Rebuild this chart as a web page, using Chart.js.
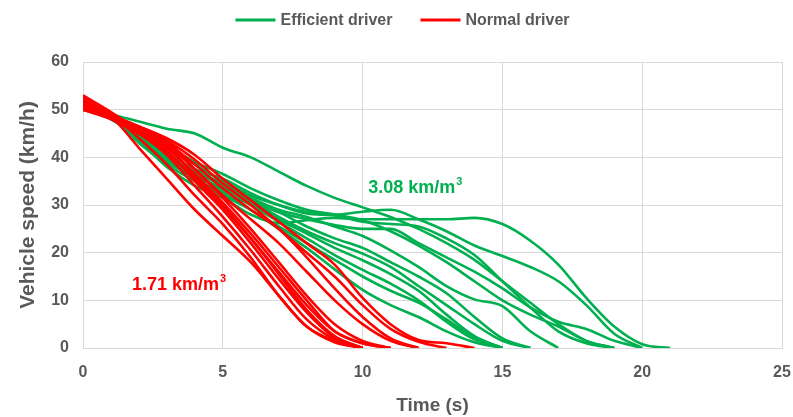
<!DOCTYPE html>
<html>
<head>
<meta charset="utf-8">
<script src="https://cdn.jsdelivr.net/npm/chart.js@4.4.1/dist/chart.umd.min.js"></script>
<style>
  html, body { margin: 0; padding: 0; background: #fff; }
  canvas { display: block; }
</style>
</head>
<body>
<canvas id="speed" width="793" height="417"></canvas>
<script>
// speeds (km/h) sampled every second, index = time (s)
// efficient driver runs
var eff1  = [50, 49, 47.5, 46, 45, 42, 40, 37, 34, 31.5, 29.5, 27.5, 25, 22, 18.5, 14, 9.5, 5, 1.5, 0];
var eff2  = [50.5, 48.5, 43.5, 38, 34, 31.5, 28, 26.2, 26.8, 27.3, 27, 27, 27, 27, 27.3, 26, 22.5, 17.5, 10.5, 4.5, 0.8, 0];
var eff3  = [51, 48.5, 45.5, 42, 38.5, 35, 32, 30, 28.5, 28, 28.6, 29, 27, 24.5, 21.5, 19.3, 17, 14, 9, 3, 0];
var eff4  = [50, 49, 45, 41, 37.5, 35.5, 32.5, 30, 28.2, 27.8, 26.5, 26, 25.5, 23, 19.5, 14, 8.5, 3.5, 1, 0];
var eff5  = [51.5, 48.5, 44.5, 40.5, 37, 34, 31, 28.5, 27, 25.8, 25, 25, 22, 19, 16, 12.5, 8.5, 5.5, 4, 1.5, 0];
var eff6  = [50, 48, 44, 40, 37, 34.5, 31.5, 29, 27.5, 25.5, 23.5, 20.5, 17, 13, 10.2, 8.8, 3.5, 0];
var eff7  = [51, 48.5, 44, 39.5, 36, 33.5, 31, 28.5, 25.5, 23, 21, 18, 15, 11.5, 6.5, 2, 0];
var eff8  = [50.5, 48.5, 44.5, 40, 37, 34.5, 31, 27.5, 24.5, 22, 19.8, 17, 13, 9, 5, 1.5, 0];
var eff9  = [50, 48.5, 43.5, 39, 36, 33.5, 30.5, 27, 24, 21, 18.4, 15.5, 12, 7, 2.5, 0];
var eff10 = [51, 48, 44, 40, 36.5, 33, 30, 26.5, 23, 19.5, 16.4, 13.5, 10, 5.5, 1.8, 0];
var eff11 = [50, 48.5, 43, 38.5, 35, 32, 29, 25.5, 22, 18.5, 15, 12, 9.5, 6, 2.2, 0];
var eff12 = [51.5, 48.5, 44, 39.5, 35.5, 32.5, 29, 25, 21, 16.5, 12.2, 9, 6.5, 3.5, 1.2, 0];
var eff13 = [50, 49, 46, 42.5, 39, 36.5, 33.5, 31, 29, 28, 26.8, 24.5, 21.5, 18, 14, 10, 7, 4.5, 1.5, 0];
// normal driver runs
var norm1  = [51, 48.5, 42, 35.5, 29, 23.5, 18, 11, 4.5, 1.5, 0];
var norm2  = [52, 49, 44, 38.5, 32, 26, 19, 11, 4.5, 1.2, 0];
var norm3  = [50.5, 48.5, 45, 40.5, 34, 27.5, 20.5, 13, 6, 1.8, 0];
var norm4  = [53, 49.5, 45.5, 41.5, 35, 29, 22, 14.5, 7.5, 2.2, 0];
var norm5  = [51, 48.5, 45, 41, 35.5, 29.5, 23, 15.5, 8, 2.5, 0];
var norm6  = [51.5, 49, 46, 42.5, 36, 30, 23, 16, 9, 3.5, 1, 0];
var norm7  = [52.5, 49, 46.5, 43.5, 37.5, 31.5, 25, 18, 11, 5, 1.5, 0];
var norm8  = [52.5, 49, 45.5, 42, 36.5, 30.5, 24, 17, 10, 3.5, 1, 0];
var norm9  = [50, 48, 45, 42.5, 37.5, 32, 27, 22, 16, 10, 5, 1.5, 0];
var norm10 = [52, 49, 46, 43, 38.5, 33.5, 29, 25, 19, 12.5, 6.5, 2, 0];
var norm11 = [51, 48.5, 46, 43.5, 39.5, 34.5, 30, 25, 20, 15, 9, 4, 1.3, 0];
var norm12 = [50, 48.5, 46.5, 44, 40.5, 35.5, 31, 26.5, 22, 17.5, 10.5, 5, 1.7, 1, 0];

var efficientRuns = [eff1, eff2, eff3, eff4, eff5, eff6, eff7, eff8, eff9, eff10, eff11, eff12, eff13];
var normalRuns = [norm1, norm2, norm3, norm4, norm5, norm6, norm7, norm8, norm9, norm10, norm11, norm12];

var timeTicks = [0, 5, 10, 15, 20, 25];
var speedTicks = [0, 10, 20, 30, 40, 50, 60];

var green = "#00B050";
var red = "#FF0000";
var grey = "#595959";
var fontFam = "'Liberation Sans Narrow', 'Liberation Sans', Arial, sans-serif";

function toPoints(run) {
  return run.map(function (v, i) { return { x: i, y: v }; });
}

var datasets = [];
efficientRuns.forEach(function (run, i) {
  datasets.push({
    label: i === 0 ? "Efficient driver" : "",
    data: toPoints(run),
    borderColor: green,
    backgroundColor: green,
    order: 2
  });
});
normalRuns.forEach(function (run, i) {
  datasets.push({
    label: i === 0 ? "Normal driver" : "",
    data: toPoints(run),
    borderColor: red,
    backgroundColor: red,
    order: 1
  });
});

// legend drawn at the top (line sample + label)
var topLegend = {
  id: "topLegend",
  afterDraw: function (chart) {
    var ctx = chart.ctx;
    var items = [
      { text: "Efficient driver", color: green },
      { text: "Normal driver", color: red }
    ];
    ctx.save();
    ctx.font = "bold 16px " + fontFam;
    var lineW = 40, gap = 5, spacing = 28;
    var total = 0;
    items.forEach(function (it) { total += lineW + gap + ctx.measureText(it.text).width; });
    total += spacing * (items.length - 1);
    var x = (chart.width - total) / 2 + 6;
    var y = 20;
    items.forEach(function (it) {
      ctx.strokeStyle = it.color;
      ctx.lineWidth = 3;
      ctx.beginPath();
      ctx.moveTo(x, y);
      ctx.lineTo(x + lineW, y);
      ctx.stroke();
      ctx.fillStyle = grey;
      ctx.textBaseline = "middle";
      ctx.textAlign = "left";
      ctx.fillText(it.text, x + lineW + gap, y + 1);
      x += lineW + gap + ctx.measureText(it.text).width + spacing;
    });
    ctx.restore();
  }
};

// efficiency labels placed in data coordinates
var notes = [
  { text: "3.08 km/m", t: 10.2, v: 33.5, color: green },
  { text: "1.71 km/m", t: 1.75, v: 13.2, color: red }
];
var noteLabels = {
  id: "noteLabels",
  afterDatasetsDraw: function (chart) {
    var ctx = chart.ctx;
    var xs = chart.scales.x, ys = chart.scales.y;
    ctx.save();
    notes.forEach(function (n) {
      var px = xs.getPixelForValue(n.t);
      var py = ys.getPixelForValue(n.v);
      ctx.fillStyle = n.color;
      ctx.textAlign = "left";
      ctx.textBaseline = "middle";
      ctx.font = "bold 18px " + fontFam;
      ctx.fillText(n.text, px, py);
      var w = ctx.measureText(n.text).width;
      ctx.font = "bold 11px " + fontFam;
      ctx.fillText("3", px + w + 1, py - 6);
    });
    ctx.restore();
  }
};

new Chart("speed", {
  type: "line",
  data: { datasets: datasets },
  options: {
    responsive: false,
    animation: false,
    layout: { padding: { top: 62, right: 2, left: 0, bottom: 0 } },
    elements: {
      line: { borderWidth: 2.6, cubicInterpolationMode: "monotone" },
      point: { radius: 0 }
    },
    plugins: {
      legend: { display: false },
      tooltip: { enabled: false }
    },
    scales: {
      x: {
        type: "linear",
        min: 0,
        max: 25,
        afterFit: function (s) { s.height = 69; s.paddingRight = 11; s.paddingLeft = 0; },
        afterBuildTicks: function (s) { s.ticks = timeTicks.map(function (v) { return { value: v }; }); },
        grid: { color: "#D9D9D9", drawTicks: false, lineWidth: 1 },
        border: { color: "#D9D9D9" },
        ticks: { color: grey, padding: 15, font: { family: fontFam, size: 16, weight: "bold" } },
        title: {
          display: true,
          text: "Time (s)",
          color: grey,
          padding: { top: 0, bottom: 0 },
          font: { family: fontFam, size: 19, weight: "bold" }
        }
      },
      y: {
        min: 0,
        max: 60,
        afterFit: function (s) { s.width = 83; },
        afterBuildTicks: function (s) { s.ticks = speedTicks.map(function (v) { return { value: v }; }); },
        grid: { color: "#D9D9D9", drawTicks: false, lineWidth: 1 },
        border: { color: "#D9D9D9" },
        ticks: { color: grey, padding: 14, font: { family: fontFam, size: 16, weight: "bold" } },
        title: {
          display: true,
          text: "Vehicle speed (km/h)",
          color: grey,
          padding: { top: 16, bottom: 0 },
          font: { family: fontFam, size: 21, weight: "bold" }
        }
      }
    }
  },
  plugins: [topLegend, noteLabels]
});
</script>
</body>
</html>
